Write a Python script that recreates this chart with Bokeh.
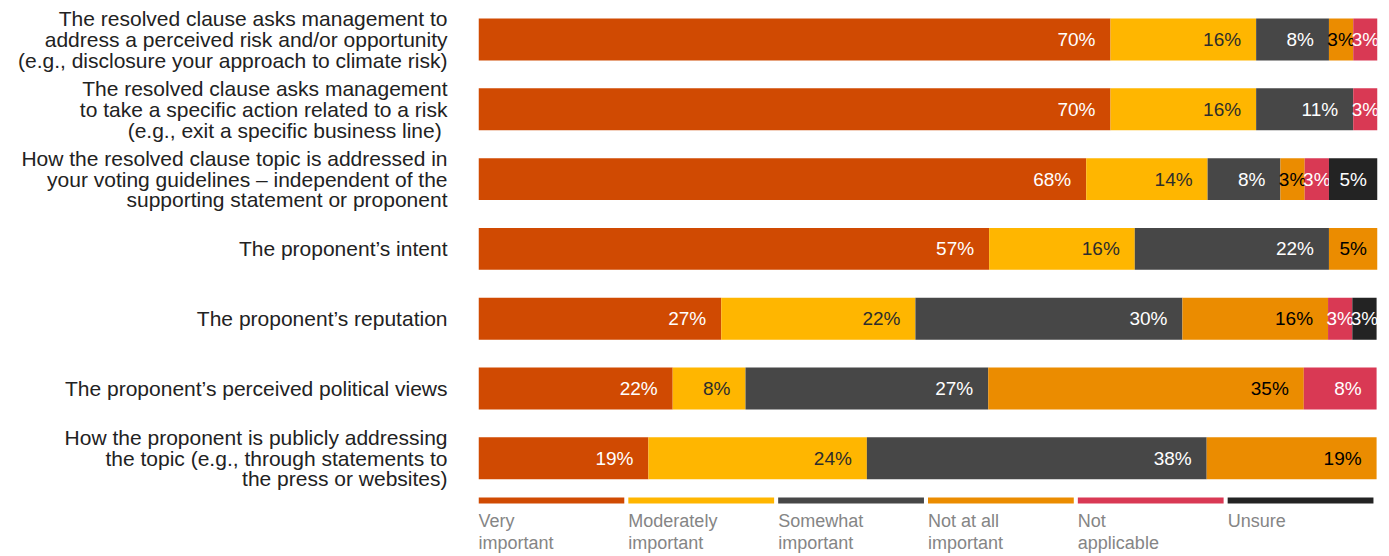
from bokeh.plotting import figure
from bokeh.models import Range1d, FixedTicker, ColumnDataSource
from bokeh.core.properties import value
from bokeh.embed import file_html
from bokeh.resources import INLINE

categories = [
    "The resolved clause asks management to\naddress a perceived risk and/or opportunity\n(e.g., disclosure your approach to climate risk)",
    "The resolved clause asks management\nto take a specific action related to a risk\n(e.g., exit a specific business line) ",
    "How the resolved clause topic is addressed in\nyour voting guidelines \u2013 independent of the\nsupporting statement or proponent",
    "The proponent\u2019s intent",
    "The proponent\u2019s reputation",
    "The proponent\u2019s perceived political views",
    "How the proponent is publicly addressing\nthe topic (e.g., through statements to\nthe press or websites)",
]
series_names = ["Very\nimportant", "Moderately\nimportant", "Somewhat\nimportant",
                "Not at all\nimportant", "Not\napplicable", "Unsure"]
very_important = [70.3, 70.3, 67.6, 56.8, 27.0, 21.6, 18.9]
moderately_important = [16.2, 16.2, 13.5, 16.2, 21.6, 8.1, 24.3]
somewhat_important = [8.1, 10.8, 8.1, 21.6, 29.7, 27.0, 37.8]
not_at_all_important = [2.7, 0.0, 2.7, 5.4, 16.2, 35.1, 18.9]
not_applicable = [2.7, 2.7, 2.7, 0.0, 2.7, 8.1, 0.0]
unsure = [0.0, 0.0, 5.4, 0.0, 2.7, 0.0, 0.0]

series = [very_important, moderately_important, somewhat_important,
          not_at_all_important, not_applicable, unsure]
colors = ["#D04A02", "#FFB600", "#474747", "#EB8C00", "#D93954", "#232323"]
label_colors = ["#ffffff", "#2d2d2d", "#ffffff", "#000000", "#ffffff", "#ffffff"]

n = len(categories)
rows = list(range(n))

p = figure(width=1389, height=556, output_backend="svg", toolbar_location=None,
           x_range=Range1d(0, 100), y_range=Range1d(7.407, -0.559),
           min_border_left=478, min_border_right=12, min_border_top=0, min_border_bottom=0)
p.outline_line_color = None
p.grid.visible = False
p.xaxis.visible = False
p.background_fill_color = None
p.border_fill_color = "white"

yax = p.yaxis[0]
yax.ticker = FixedTicker(ticks=rows)
yax.major_label_overrides = {i: categories[i] for i in rows}
yax.axis_line_color = None
yax.major_tick_line_color = None
yax.minor_tick_line_color = None
yax.major_tick_out = 0
yax.major_label_standoff = 31
yax.major_label_text_font = "Liberation Sans"
yax.major_label_text_font_size = "21px"
yax.major_label_text_color = "#222222"
yax.major_label_text_line_height = 0.9

left = [0.0] * n
for s, vals in enumerate(series):
    right = [left[i] + vals[i] for i in rows]
    src = ColumnDataSource(dict(y=rows, left=left, right=right))
    p.hbar(y="y", left="left", right="right", height=0.6, source=src,
           fill_color=colors[s], line_color=None)
    wide = dict(x=[], y=[], t=[])
    narrow = dict(x=[], y=[], t=[])
    for i in rows:
        if vals[i] <= 0:
            continue
        lab = f"{round(vals[i])}%"
        if vals[i] > 6:
            wide["x"].append(right[i]); wide["y"].append(i); wide["t"].append(lab)
        else:
            narrow["x"].append((left[i] + right[i]) / 2); narrow["y"].append(i); narrow["t"].append(lab)
    p.text(x="x", y="y", text="t", source=ColumnDataSource(wide), text_align="right",
           text_baseline="middle", x_offset=-15, text_color=label_colors[s],
           text_font=value("Liberation Sans"), text_font_size="19px")
    p.text(x="x", y="y", text="t", source=ColumnDataSource(narrow), text_align="center",
           text_baseline="middle", text_color=label_colors[s],
           text_font=value("Liberation Sans"), text_font_size="19px")
    left = right

# legend
slot = 100.0 / len(series)
gap = 0.45
p.hbar(y=[6.605] * len(series), left=[k * slot for k in range(len(series))],
       right=[(k + 1) * slot - gap for k in range(len(series))], height=0.086,
       fill_color=colors, line_color=None)
p.text(x=[k * slot for k in range(len(series))], y=[6.755] * len(series), text=series_names,
       text_align="left", text_baseline="top", text_color="#858585",
       text_font=value("Liberation Sans"), text_font_size="18px", text_line_height=1.1)

open("out.html", "w").write(file_html(p, INLINE))
